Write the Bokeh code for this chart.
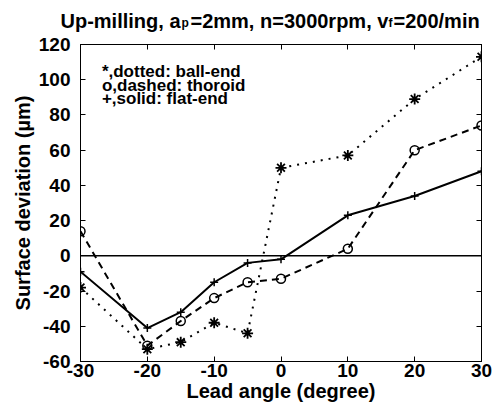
from bokeh.plotting import figure
from bokeh.layouts import column
from bokeh.models import LinearAxis, FixedTicker, Span, Label, Range1d
from bokeh.core.properties import value
from bokeh.embed import file_html
from bokeh.resources import INLINE

# ---- data ----
lead_angle = [-30, -20, -15, -10, -5, 0, 10, 20, 30]
ball_end = [-18, -53, -49, -38, -44, 50, 57, 89, 113]
thoroid = [14, -51, -37, -24, -15, -13, 4, 60, 74]
flat_end = [-9, -41, -32, -15, -4, -2, 23, 34, 48]

x_ticks = [-30, -20, -10, 0, 10, 20, 30]
y_ticks = [-60, -40, -20, 0, 20, 40, 60, 80, 100, 120]

title_main = ["Up-milling, a", "=2mm, n=3000rpm, v", "=200/min"]
title_subs = ["p", "f"]
legend_lines = ["*,dotted: ball-end", "o,dashed: thoroid", "+,solid: flat-end"]
x_label = "Lead angle (degree)"
y_label = "Surface deviation (\u00b5m)"

FONT = "Liberation Sans"
W = 498
TITLE_H = 32
H = 375
LEFT, RIGHT, TOP, BOTTOM = 80, 17, 12, 46

# ---------- title strip (text with subscripts) ----------
tf = figure(width=W, height=TITLE_H, output_backend="svg", toolbar_location=None,
            x_range=Range1d(0, W), y_range=Range1d(0, TITLE_H),
            x_axis_location=None, y_axis_location=None,
            min_border_left=0, min_border_right=0, min_border_top=0, min_border_bottom=0,
            outline_line_color=None)
try:
    tf.frame_align = False
except Exception:
    pass
tf.title.visible = False
tf.grid.visible = False
tf.background_fill_color = "white"
tf.border_fill_color = "white"
tf.text(x=[60, 190, 393], y=[12, 12, 12], text=title_main,
        text_font=value(FONT), text_font_style="bold", text_font_size="20px",
        text_color="black", text_baseline="alphabetic", text_align="left")
tf.text(x=[181, 388], y=[10, 10], text=title_subs,
        text_font=value(FONT), text_font_style="bold", text_font_size="12px",
        text_color="black", text_baseline="alphabetic", text_align="left")

# ---------- main plot ----------
p = figure(width=W, height=H, output_backend="svg", toolbar_location=None,
           x_range=Range1d(-30, 30), y_range=Range1d(-60, 120),
           min_border_left=LEFT, min_border_right=RIGHT,
           min_border_top=TOP, min_border_bottom=BOTTOM)
try:
    p.frame_align = False
except Exception:
    pass
p.title.visible = False
p.xgrid.visible = False
p.ygrid.visible = False
p.outline_line_color = "black"
p.outline_line_width = 1
p.background_fill_color = "white"
p.border_fill_color = "white"


def style_axis(ax, ticks, show_labels):
    ax.ticker = FixedTicker(ticks=ticks)
    ax.major_tick_in = 5
    ax.major_tick_out = 0
    ax.minor_tick_line_color = None
    ax.axis_line_color = "black"
    ax.major_tick_line_color = "black"
    if show_labels:
        ax.major_label_overrides = {t: str(t) for t in ticks}
        ax.major_label_text_font = FONT
        ax.major_label_text_font_style = "bold"
        ax.major_label_text_font_size = "19px"
        ax.major_label_text_color = "black"
        ax.axis_label_text_font = FONT
        ax.axis_label_text_font_style = "bold"
        ax.axis_label_text_font_size = "20px"
        ax.axis_label_text_color = "black"
    else:
        ax.major_label_text_font_size = "0px"
        ax.major_label_text_color = None
        ax.major_label_standoff = 0


xa = p.xaxis[0]
style_axis(xa, x_ticks, True)
xa.axis_label = x_label
xa.major_label_standoff = 2
xa.axis_label_standoff = 0

ya = p.yaxis[0]
style_axis(ya, y_ticks, True)
ya.axis_label = y_label
ya.major_label_standoff = 10
ya.axis_label_standoff = 2

top_ax = LinearAxis()
style_axis(top_ax, x_ticks, False)
p.add_layout(top_ax, "above")
right_ax = LinearAxis()
style_axis(right_ax, y_ticks, False)
p.add_layout(right_ax, "right")

p.add_layout(Span(location=0, dimension="width", line_color="black", line_width=1.5))

# ball-end: asterisk, dotted
p.line(lead_angle, ball_end, line_color="black", line_width=2, line_dash="2 6")
p.scatter(lead_angle, ball_end, marker="asterisk", size=11, line_color="black", line_width=1.8)
# thoroid: circle, dashed
p.line(lead_angle, thoroid, line_color="black", line_width=2, line_dash="7 5")
p.scatter(lead_angle, thoroid, marker="circle", size=9, fill_color=None, line_color="black", line_width=1.5)
# flat-end: cross, solid
p.line(lead_angle, flat_end, line_color="black", line_width=2)
p.scatter(lead_angle, flat_end, marker="cross", size=8, line_color="black", line_width=1.5)

# text legend (plain text inside the axes, as in the original)
for i, txt in enumerate(legend_lines):
    p.add_layout(Label(x=-26.8, y=104.6 - 7.6 * i, text=txt, text_font=FONT,
                       text_font_style="bold", text_font_size="17px",
                       text_color="black", text_baseline="alphabetic"))

layout = column(tf, p, spacing=0)
open("out.html", "w").write(file_html(layout, INLINE))
